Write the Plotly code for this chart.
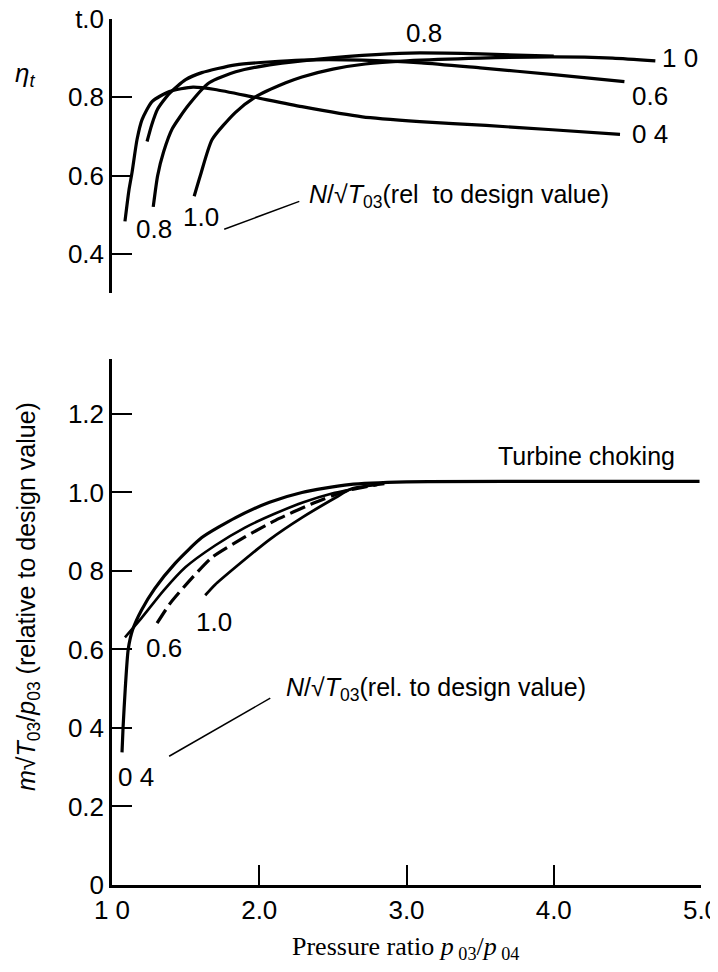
import plotly.graph_objects as go

# ---------------- data ----------------
# Top panel: isentropic efficiency vs pressure ratio, one curve per N/sqrt(T03)
eff_04_x = [1.088, 1.116, 1.136, 1.17, 1.204, 1.272, 1.39, 1.55, 1.70, 1.97, 2.29, 2.70, 3.09, 3.54, 3.99, 4.45]
eff_04_y = [0.483, 0.565, 0.608, 0.692, 0.743, 0.789, 0.815, 0.826, 0.82, 0.80, 0.776, 0.75, 0.738, 0.728, 0.717, 0.705]

eff_06_x = [1.238, 1.27, 1.31, 1.39, 1.5, 1.61, 1.84, 2.29, 2.7, 3.1, 3.5, 4.0, 4.48]
eff_06_y = [0.687, 0.73, 0.77, 0.81, 0.845, 0.863, 0.883, 0.895, 0.895, 0.888, 0.875, 0.858, 0.84]

eff_08_x = [1.28, 1.31, 1.35, 1.41, 1.52, 1.66, 1.84, 2.07, 2.29, 2.7, 3.02, 3.5, 4.0]
eff_08_y = [0.52, 0.60, 0.66, 0.72, 0.78, 0.837, 0.865, 0.883, 0.893, 0.907, 0.913, 0.911, 0.905]

eff_10_x = [1.558, 1.6, 1.68, 1.837, 1.97, 2.18, 2.29, 2.5, 2.72, 3.0, 3.5, 4.0, 4.4, 4.69]
eff_10_y = [0.547, 0.6, 0.692, 0.761, 0.80, 0.837, 0.852, 0.872, 0.885, 0.893, 0.90, 0.903, 0.90, 0.893]

# Bottom panel: non-dimensional mass flow vs pressure ratio
flow_04_x = [1.068, 1.075, 1.09, 1.11, 1.14, 1.20, 1.29, 1.43, 1.61, 1.84, 2.07, 2.29, 2.61, 3.0, 4.0, 4.99]
flow_04_y = [0.338, 0.40, 0.50, 0.60, 0.65, 0.70, 0.755, 0.82, 0.885, 0.936, 0.975, 1.0, 1.02, 1.027, 1.028, 1.028]

flow_s2_x = [1.088, 1.2, 1.35, 1.5, 1.7, 1.9, 2.1, 2.3, 2.5, 2.75]
flow_s2_y = [0.631, 0.68, 0.75, 0.81, 0.865, 0.91, 0.945, 0.975, 0.998, 1.018]

flow_06_x = [1.306, 1.40, 1.55, 1.68, 1.90, 2.11, 2.35, 2.6, 2.8]
flow_06_y = [0.667, 0.72, 0.785, 0.835, 0.886, 0.929, 0.97, 1.005, 1.02]

flow_10_x = [1.633, 1.70, 1.84, 2.07, 2.29, 2.52, 2.63, 2.85]
flow_10_y = [0.738, 0.765, 0.81, 0.88, 0.936, 0.987, 1.01, 1.022]

# tick labels (as printed)
x_tickvals = [1.0, 2.0, 3.0, 4.0, 5.0]
x_ticktext = ["1 0", "2.0", "3.0", "4.0", "5.0"]
top_tickvals = [0.4, 0.6, 0.8, 1.0]
top_ticktext = ["0.4", "0.6", "0.8", "t.0"]
bot_tickvals = [0, 0.2, 0.4, 0.6, 0.8, 1.0, 1.2]
bot_ticktext = ["0", "0.2", "0 4", "0.6", "0 8", "1.0", "1.2"]

# ---------------- styling ----------------
SANS = "Liberation Sans, Arial, sans-serif"
SERIF = "Liberation Serif, Times New Roman, serif"
INK = "black"
OFF = 8                      # page body margin of the html page
W, H = 718 - OFF, 972 - 2 * OFF
ML, MR, MT, MB = 112 - OFF, W - (701 - OFF), 19 - OFF, H - (885 - OFF)


def px_x(p):
    return (p - OFF - ML) / (W - ML - MR)


def px_y(p):
    return (H - MB - (p - OFF)) / (H - MT - MB)


fig = go.Figure()

line = dict(color=INK, width=3.2)
for xs, ys in [(eff_04_x, eff_04_y), (eff_06_x, eff_06_y), (eff_08_x, eff_08_y), (eff_10_x, eff_10_y)]:
    fig.add_trace(go.Scatter(x=xs, y=ys, mode="lines", line=dict(line, shape="spline", smoothing=0.6),
                             xaxis="x2", yaxis="y2", showlegend=False, hoverinfo="skip"))

fig.add_trace(go.Scatter(x=flow_04_x, y=flow_04_y, mode="lines", line=dict(line, shape="spline", smoothing=0.6),
                         showlegend=False, hoverinfo="skip"))
fig.add_trace(go.Scatter(x=flow_s2_x, y=flow_s2_y, mode="lines", line=dict(color=INK, width=2.6, shape="spline", smoothing=0.6),
                         showlegend=False, hoverinfo="skip"))
fig.add_trace(go.Scatter(x=flow_06_x, y=flow_06_y, mode="lines",
                         line=dict(color=INK, width=3.2, dash="16px,6px", shape="spline", smoothing=0.6),
                         showlegend=False, hoverinfo="skip"))
fig.add_trace(go.Scatter(x=flow_10_x, y=flow_10_y, mode="lines", line=dict(color=INK, width=2.8, shape="spline", smoothing=0.6),
                         showlegend=False, hoverinfo="skip"))

tick_font = dict(family=SANS, size=26, color=INK)
axis_common = dict(showgrid=False, zeroline=False, showline=True, linecolor=INK, linewidth=2.5,
                   ticks="inside", ticklen=20, tickwidth=2, tickcolor=INK, tickfont=tick_font,
                   automargin=False, ticklabeloverflow="allow")

BOT_TOP = px_y(359)
TOP_BOT = px_y(293)

fig.update_layout(
    width=W, height=H,
    margin=dict(l=ML, r=MR, t=MT, b=MB, autoexpand=False),
    paper_bgcolor="white", plot_bgcolor="white",
    showlegend=False,
    xaxis=dict(axis_common, domain=[0, 1], range=[1.0, 5.0], tickmode="array",
               tickvals=x_tickvals, ticktext=x_ticktext, anchor="y"),
    yaxis=dict(axis_common, domain=[0, BOT_TOP], range=[0, 1.34], tickmode="array",
               tickvals=bot_tickvals, ticktext=bot_ticktext, anchor="x"),
    xaxis2=dict(domain=[0, 1], range=[1.0, 5.0], visible=False, anchor="y2", automargin=False),
    yaxis2=dict(axis_common, domain=[TOP_BOT, 1.0], range=[0.30, 1.0], tickmode="array",
                tickvals=top_tickvals, ticktext=top_ticktext, anchor="x2"),
)

ann_font = dict(family=SANS, size=26, color=INK)
ann = []


def label(text, x, y, xref="x2", yref="y2", xanchor="center", size=26, font=None, angle=0):
    f = dict(font or ann_font)
    f["size"] = size
    ann.append(dict(text=text, x=x, y=y, xref=xref, yref=yref, xanchor=xanchor, yanchor="middle",
                    showarrow=False, font=f, textangle=angle))


# top panel curve labels
label("0.8", 3.116, 0.964)
label("1 0", 4.857, 0.90)
label("0.6", 4.653, 0.804)
label("0 4", 4.653, 0.705)
label("0.8", 1.286, 0.463)
label("1.0", 1.605, 0.494)
label("<i>N</i>/√<i>T</i><sub>03</sub>(rel  to design value)", 2.327, 0.547, xanchor="left", size=25)

# bottom panel labels
label("Turbine choking", 3.605, 1.094, xref="x", yref="y", xanchor="left", size=25)
label("1.0", 1.694, 0.669, xref="x", yref="y")
label("0.6", 1.354, 0.603, xref="x", yref="y")
label("0 4", 1.163, 0.275, xref="x", yref="y")
label("<i>N</i>/√<i>T</i><sub>03</sub>(rel. to design value)", 2.17, 0.499, xref="x", yref="y", xanchor="left", size=25)

# axis titles
label("<i>η<sub>t</sub></i>", px_x(25), px_y(75), xref="paper", yref="paper", size=26)
label("<i>m</i>√<i>T</i><sub>03</sub>/<i>p</i><sub>03</sub> (relative to design value)", px_x(28), px_y(597),
      xref="paper", yref="paper", size=25, angle=-90)
label("Pressure ratio <i>p</i><sub> 03</sub>/<i>p</i><sub> 04</sub>", px_x(405), px_y(948),
      xref="paper", yref="paper", size=26, font=dict(family=SERIF, color=INK))

fig.update_layout(annotations=ann)

# leader lines from speed labels to the parameter caption
leader_top_x = [1.762, 2.272]
leader_top_y = [0.463, 0.534]
leader_bot_x = [1.388, 2.075]
leader_bot_y = [0.328, 0.476]
fig.add_shape(type="line", xref="x2", yref="y2", x0=leader_top_x[0], y0=leader_top_y[0],
              x1=leader_top_x[1], y1=leader_top_y[1], line=dict(color=INK, width=1.5))
fig.add_shape(type="line", xref="x", yref="y", x0=leader_bot_x[0], y0=leader_bot_y[0],
              x1=leader_bot_x[1], y1=leader_bot_y[1], line=dict(color=INK, width=1.5))

fig.write_html("out.html")
